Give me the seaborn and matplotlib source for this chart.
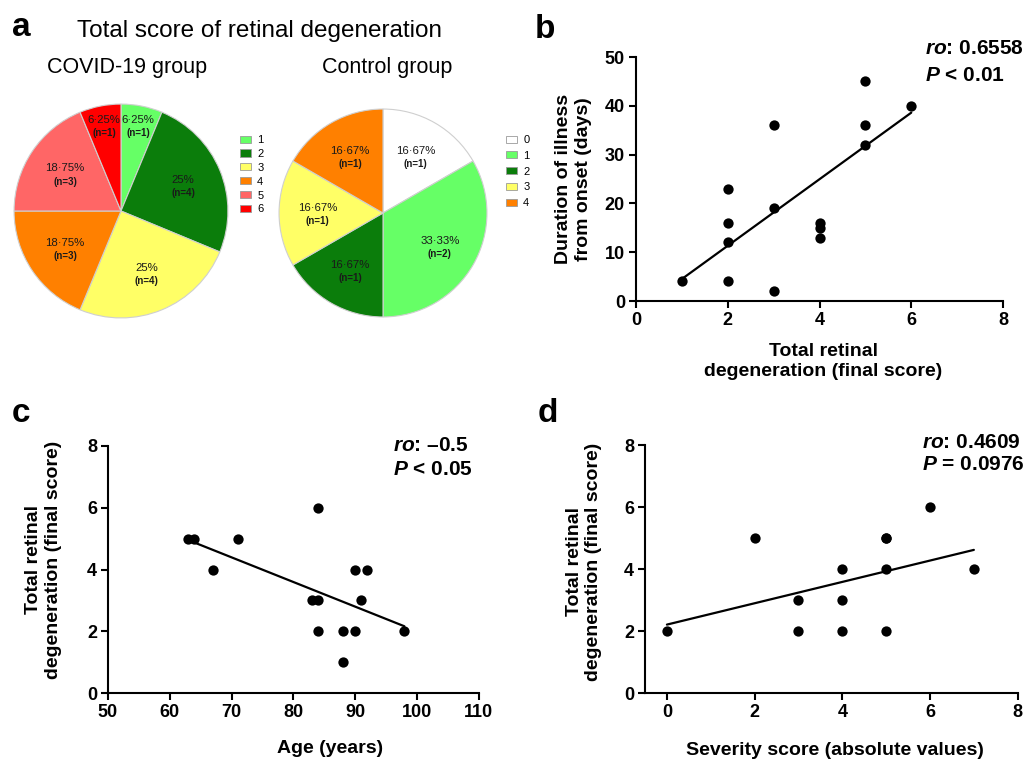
"""
Retinal degeneration figure: score pies (a) + three correlation scatters (b-d)
"""
import numpy as np
import matplotlib
matplotlib.use("Agg")
import matplotlib.pyplot as plt
from matplotlib.patches import Patch
import seaborn as sns

sns.set_theme(style="ticks")
plt.rcParams["font.family"] = ["Liberation Sans", "DejaVu Sans"]
plt.rcParams.update({"mathtext.fontset": "custom",
                     "mathtext.it": "Liberation Sans:italic:bold",
                     "mathtext.rm": "Liberation Sans:bold",
                     "axes.edgecolor": "black", "axes.labelcolor": "black",
                     "xtick.color": "black", "ytick.color": "black",
                     "text.color": "black"})

# ── DATA
covid_scores = ["1", "2", "3", "4", "5", "6"]
covid_counts = [1, 4, 4, 3, 3, 1]
control_scores = ["0", "1", "2", "3", "4"]
control_counts = [1, 2, 1, 1, 1]

# b: final score vs duration of illness (days)
b_score = [1, 2, 2, 2, 2, 3, 3, 3, 4, 4, 4, 5, 5, 5, 6]
b_days = [4, 23, 16, 12, 4, 36, 19, 2, 16, 15, 13, 45, 36, 32, 40]

# c: age vs final score
c_age = [63, 64, 67, 71, 83, 84, 84, 84, 88, 88, 90, 90, 91, 92, 98]
c_score = [5, 5, 4, 5, 3, 3, 6, 2, 2, 1, 2, 4, 3, 4, 2]

# d: severity vs final score
d_severity = [0, 2, 3, 3, 4, 4, 4, 5, 5, 5, 5, 6, 7]
d_score = [2, 5, 3, 2, 4, 3, 2, 5, 5, 4, 2, 6, 4]

stats_b = ["$ro$: 0.6558", "$P$ < 0.01"]
stats_c = ["$ro$: \u20130.5", "$P$ < 0.05"]
stats_d = ["$ro$: 0.4609", "$P$ = 0.0976"]

# ── STYLE
score_colors = {"0": "#ffffff", "1": "#66ff66", "2": "#0b7d0b", "3": "#ffff66",
                "4": "#ff8000", "5": "#ff6666", "6": "#ff0000"}
W, H = 1035, 759


def fig_box(x0, y0, x1, y1):
    # pixel box (top-left origin) -> figure fraction rect
    return [x0 / W, 1 - y1 / H, (x1 - x0) / W, (y1 - y0) / H]


def draw_pie(ax, counts, labels):
    wedges, _ = ax.pie(counts, colors=[score_colors[s] for s in labels],
                       startangle=90, counterclock=False,
                       wedgeprops=dict(edgecolor="#cfcfcf", linewidth=0.8))
    total = sum(counts)
    for w, n in zip(wedges, counts):
        frac = n / total
        txt = f"{100 * frac:.2f}".rstrip("0").rstrip(".").replace(".", "\u00b7") + "%"
        ang = np.deg2rad((w.theta1 + w.theta2) / 2)
        r = 0.82 if frac < 0.1 else 0.63
        cx, cy = r * np.cos(ang), r * np.sin(ang)
        ax.text(cx, cy + 0.05, txt, ha="center", va="center", fontsize=8.2, color="#1a1a1a")
        ax.text(cx, cy - 0.075, f"(n={n})", ha="center", va="center", fontsize=7,
                fontweight="bold", color="#1a1a1a")
    ax.set_xlim(-1.01, 1.01); ax.set_ylim(-1.01, 1.01); ax.set_aspect("equal")


def draw_scatter(ax, x, y, xlim, xticks, ylim, yticks):
    sns.regplot(x=x, y=y, ax=ax, ci=None, color="black", truncate=True,
                scatter_kws=dict(s=55, linewidths=0, alpha=1, clip_on=False),
                line_kws=dict(lw=1.6))
    ax.set_xlim(*xlim); ax.set_ylim(*ylim)
    ax.set_xticks(xticks); ax.set_yticks(yticks)
    sns.despine(ax=ax)
    for sp in ("left", "bottom"):
        ax.spines[sp].set_linewidth(1.5)
    ax.tick_params(width=1.5, length=5, labelsize=13, pad=3)
    for lbl in ax.get_xticklabels() + ax.get_yticklabels():
        lbl.set_fontweight("bold")


def stat_text(ax, lines, x, y1, y2):
    ax.text(x, y1, lines[0], transform=ax.transAxes, fontsize=15, fontweight="bold",
            ha="left", va="center", clip_on=False)
    ax.text(x, y2, lines[1], transform=ax.transAxes, fontsize=15, fontweight="bold",
            ha="left", va="center", clip_on=False)


fig = plt.figure(figsize=(W / 100, H / 100), dpi=100)

# ── a: pies
fig.text(12 / W, 1 - 36 / H, "a", fontsize=24, fontweight="bold", ha="left", va="baseline")
fig.text(77 / W, 1 - 37 / H, "Total score of retinal degeneration", fontsize=17.5,
         ha="left", va="baseline")
fig.text(47 / W, 1 - 73 / H, "COVID-19 group", fontsize=15.5, ha="left", va="baseline")
fig.text(322 / W, 1 - 73 / H, "Control group", fontsize=15.5, ha="left", va="baseline")

ax_p1 = fig.add_axes(fig_box(13, 103, 229, 319))
draw_pie(ax_p1, covid_counts, covid_scores)
ax_p2 = fig.add_axes(fig_box(278, 108, 488, 318))
draw_pie(ax_p2, control_counts, control_scores)

for scores, left, top, spacing in [(covid_scores, 240, 135, 0.35),
                                   (control_scores, 506, 135, 0.52)]:
    handles = [Patch(facecolor=score_colors[s], edgecolor="#9a9a9a", linewidth=0.6, label=s)
               for s in scores]
    fig.legend(handles=handles, loc="upper left", bbox_to_anchor=(left / W, 1 - top / H),
               frameon=False, fontsize=8, borderpad=0, borderaxespad=0,
               handlelength=0.95, handleheight=0.6, handletextpad=0.6,
               labelspacing=spacing)

# ── b: duration vs score
ax_b = fig.add_axes(fig_box(636, 57, 1003, 301))
draw_scatter(ax_b, b_score, b_days, (0, 8), range(0, 9, 2), (0, 50), range(0, 51, 10))
ax_b.set_xlabel("Total retinal\ndegeneration (final score)", fontsize=14, fontweight="bold")
ax_b.set_ylabel("Duration of illness\nfrom onset (days)", fontsize=14, fontweight="bold")
ax_b.xaxis.set_label_coords(0.51, -0.172)
ax_b.yaxis.set_label_coords(-0.12, 0.5)
stat_text(ax_b, stats_b, 0.787, 1.033, 0.926)
fig.text(535 / W, 1 - 38 / H, "b", fontsize=24, fontweight="bold", ha="left", va="baseline")

# ── c: age vs score
ax_c = fig.add_axes(fig_box(108, 446, 478.5, 693))
draw_scatter(ax_c, c_age, c_score, (50, 110), range(50, 111, 10), (0, 8), range(0, 9, 2))
ax_c.set_xlabel("Age (years)", fontsize=14, fontweight="bold")
ax_c.set_ylabel("Total retinal\ndegeneration (final score)", fontsize=14, fontweight="bold")
ax_c.xaxis.set_label_coords(0.6, -0.19)
ax_c.yaxis.set_label_coords(-0.124, 0.54)
stat_text(ax_c, stats_c, 0.769, 1.0, 0.903)
fig.text(12 / W, 1 - 422 / H, "c", fontsize=24, fontweight="bold", ha="left", va="baseline")

# ── d: severity vs score
ax_d = fig.add_axes(fig_box(645, 445, 1017.7, 693.3))
draw_scatter(ax_d, d_severity, d_score, (-0.5, 8), range(0, 9, 2), (0, 8), range(0, 9, 2))
ax_d.set_xlabel("Severity score (absolute values)", fontsize=14, fontweight="bold")
ax_d.set_ylabel("Total retinal\ndegeneration (final score)", fontsize=14, fontweight="bold")
ax_d.xaxis.set_label_coords(0.51, -0.196)
ax_d.yaxis.set_label_coords(-0.115, 0.53)
stat_text(ax_d, stats_d, 0.743, 1.012, 0.923)
fig.text(538 / W, 1 - 422 / H, "d", fontsize=24, fontweight="bold", ha="left", va="baseline")

fig.savefig("out.png", dpi=100)
plt.close(fig)
